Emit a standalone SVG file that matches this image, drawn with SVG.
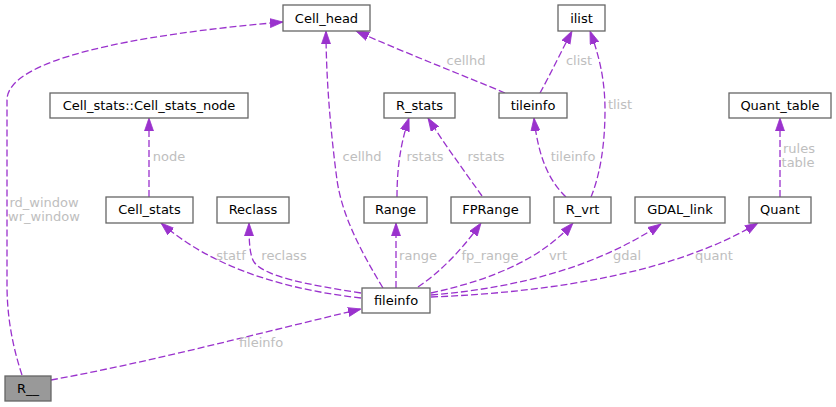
<svg xmlns="http://www.w3.org/2000/svg" width="836" height="407" viewBox="0 0 836 407">
<defs>
<style>
.node rect{fill:#ffffff;stroke:#666666;stroke-width:1.3}
.node.hl rect{fill:#999999}
.node text{font-family:"DejaVu Sans",sans-serif;font-size:13px;fill:#000000;text-anchor:middle}
.edge path{fill:none;stroke:#9a32cd;stroke-width:1.3;stroke-dasharray:7,3;marker-end:url(#arr)}
.lbl{font-family:"DejaVu Sans",sans-serif;font-size:13px;fill:#bebebe;text-anchor:middle}
</style>
<marker id="arr" markerUnits="userSpaceOnUse" markerWidth="14" markerHeight="10" viewBox="0 -5 14 10" refX="13" refY="0" orient="auto">
<path d="M0,-4.5 L13,0 L0,4.5 z" fill="#9a32cd" stroke="#9a32cd" stroke-width="0.8"/>
</marker>
</defs>
<rect width="836" height="407" fill="#ffffff"/>
<g id="edges" class="edge">
<path d="M22,375 C12,345 7,315 7,285 L7,100 C7,60 130,35 283,22"/>
<path d="M51,380 C150,362 260,333 361,309"/>
<path d="M383,288 C360,250 342,215 337,180 C331,135 326,80 326,31"/>
<path d="M505,93 C470,78 410,55 356,31"/>
<path d="M540,93 C550,75 562,50 572,31"/>
<path d="M591,197 C600,175 605,145 605,110 C605,75 597,50 590,31"/>
<path d="M566,197 C548,180 538,155 534,118"/>
<path d="M397,197 C397,170 400,145 409,118"/>
<path d="M482,196 C465,172 445,145 428,118"/>
<path d="M149,197 L149,118"/>
<path d="M780,197 L780,118"/>
<path d="M361,298 C290,290 215,270 161,223"/>
<path d="M361,293 C310,285 265,277 254,262 C250,255 249,245 249,223"/>
<path d="M396,288 L396,223"/>
<path d="M418,287 C440,272 462,250 481,223"/>
<path d="M431,293 C490,280 540,260 573,223"/>
<path d="M431,295 C520,288 600,265 661,224"/>
<path d="M431,297 C560,292 680,270 758,223"/>
</g>
<g id="edge-labels">
<text class="lbl" x="44" y="207">rd_window</text>
<text class="lbl" x="44" y="221">wr_window</text>
<text class="lbl" x="261" y="347">fileinfo</text>
<text class="lbl" x="362" y="161">cellhd</text>
<text class="lbl" x="466" y="65">cellhd</text>
<text class="lbl" x="579" y="65">clist</text>
<text class="lbl" x="620" y="109">tlist</text>
<text class="lbl" x="169" y="161">node</text>
<text class="lbl" x="425" y="161">rstats</text>
<text class="lbl" x="486" y="161">rstats</text>
<text class="lbl" x="573" y="161">tileinfo</text>
<text class="lbl" x="799" y="153">rules</text>
<text class="lbl" x="798" y="167">table</text>
<text class="lbl" x="231" y="260">statf</text>
<text class="lbl" x="284" y="260">reclass</text>
<text class="lbl" x="418" y="260">range</text>
<text class="lbl" x="490" y="260">fp_range</text>
<text class="lbl" x="558" y="260">vrt</text>
<text class="lbl" x="627" y="260">gdal</text>
<text class="lbl" x="714" y="260">quant</text>
</g>
<g id="Cell_head" class="node"><rect x="283" y="5" width="87" height="26"/><text x="326.5" y="22.5">Cell_head</text></g>
<g id="ilist" class="node"><rect x="558" y="5" width="47" height="26"/><text x="581.5" y="22.5">ilist</text></g>
<g id="Cell_stats_node" class="node"><rect x="50" y="93" width="198" height="25"/><text x="149" y="110">Cell_stats::Cell_stats_node</text></g>
<g id="R_stats" class="node"><rect x="384" y="93" width="71" height="25"/><text x="419.5" y="110">R_stats</text></g>
<g id="tileinfo" class="node"><rect x="499" y="93" width="68" height="25"/><text x="533" y="110">tileinfo</text></g>
<g id="Quant_table" class="node"><rect x="729" y="93" width="102" height="25"/><text x="780" y="110">Quant_table</text></g>
<g id="Cell_stats" class="node"><rect x="106" y="197" width="87" height="26"/><text x="149.5" y="214">Cell_stats</text></g>
<g id="Reclass" class="node"><rect x="217" y="197" width="72" height="26"/><text x="253" y="214">Reclass</text></g>
<g id="Range" class="node"><rect x="364" y="197" width="63" height="26"/><text x="395.5" y="214">Range</text></g>
<g id="FPRange" class="node"><rect x="451" y="197" width="79" height="26"/><text x="490.5" y="214">FPRange</text></g>
<g id="R_vrt" class="node"><rect x="554" y="197" width="57" height="26"/><text x="582.5" y="214">R_vrt</text></g>
<g id="GDAL_link" class="node"><rect x="635" y="197" width="90" height="26"/><text x="680" y="214">GDAL_link</text></g>
<g id="Quant" class="node"><rect x="749" y="197" width="62" height="26"/><text x="780" y="214">Quant</text></g>
<g id="fileinfo" class="node"><rect x="362" y="288" width="68" height="25"/><text x="396" y="305">fileinfo</text></g>
<g id="R__" class="node hl"><rect x="5" y="376" width="46" height="25"/><text x="28" y="393">R__</text></g>
</svg>
